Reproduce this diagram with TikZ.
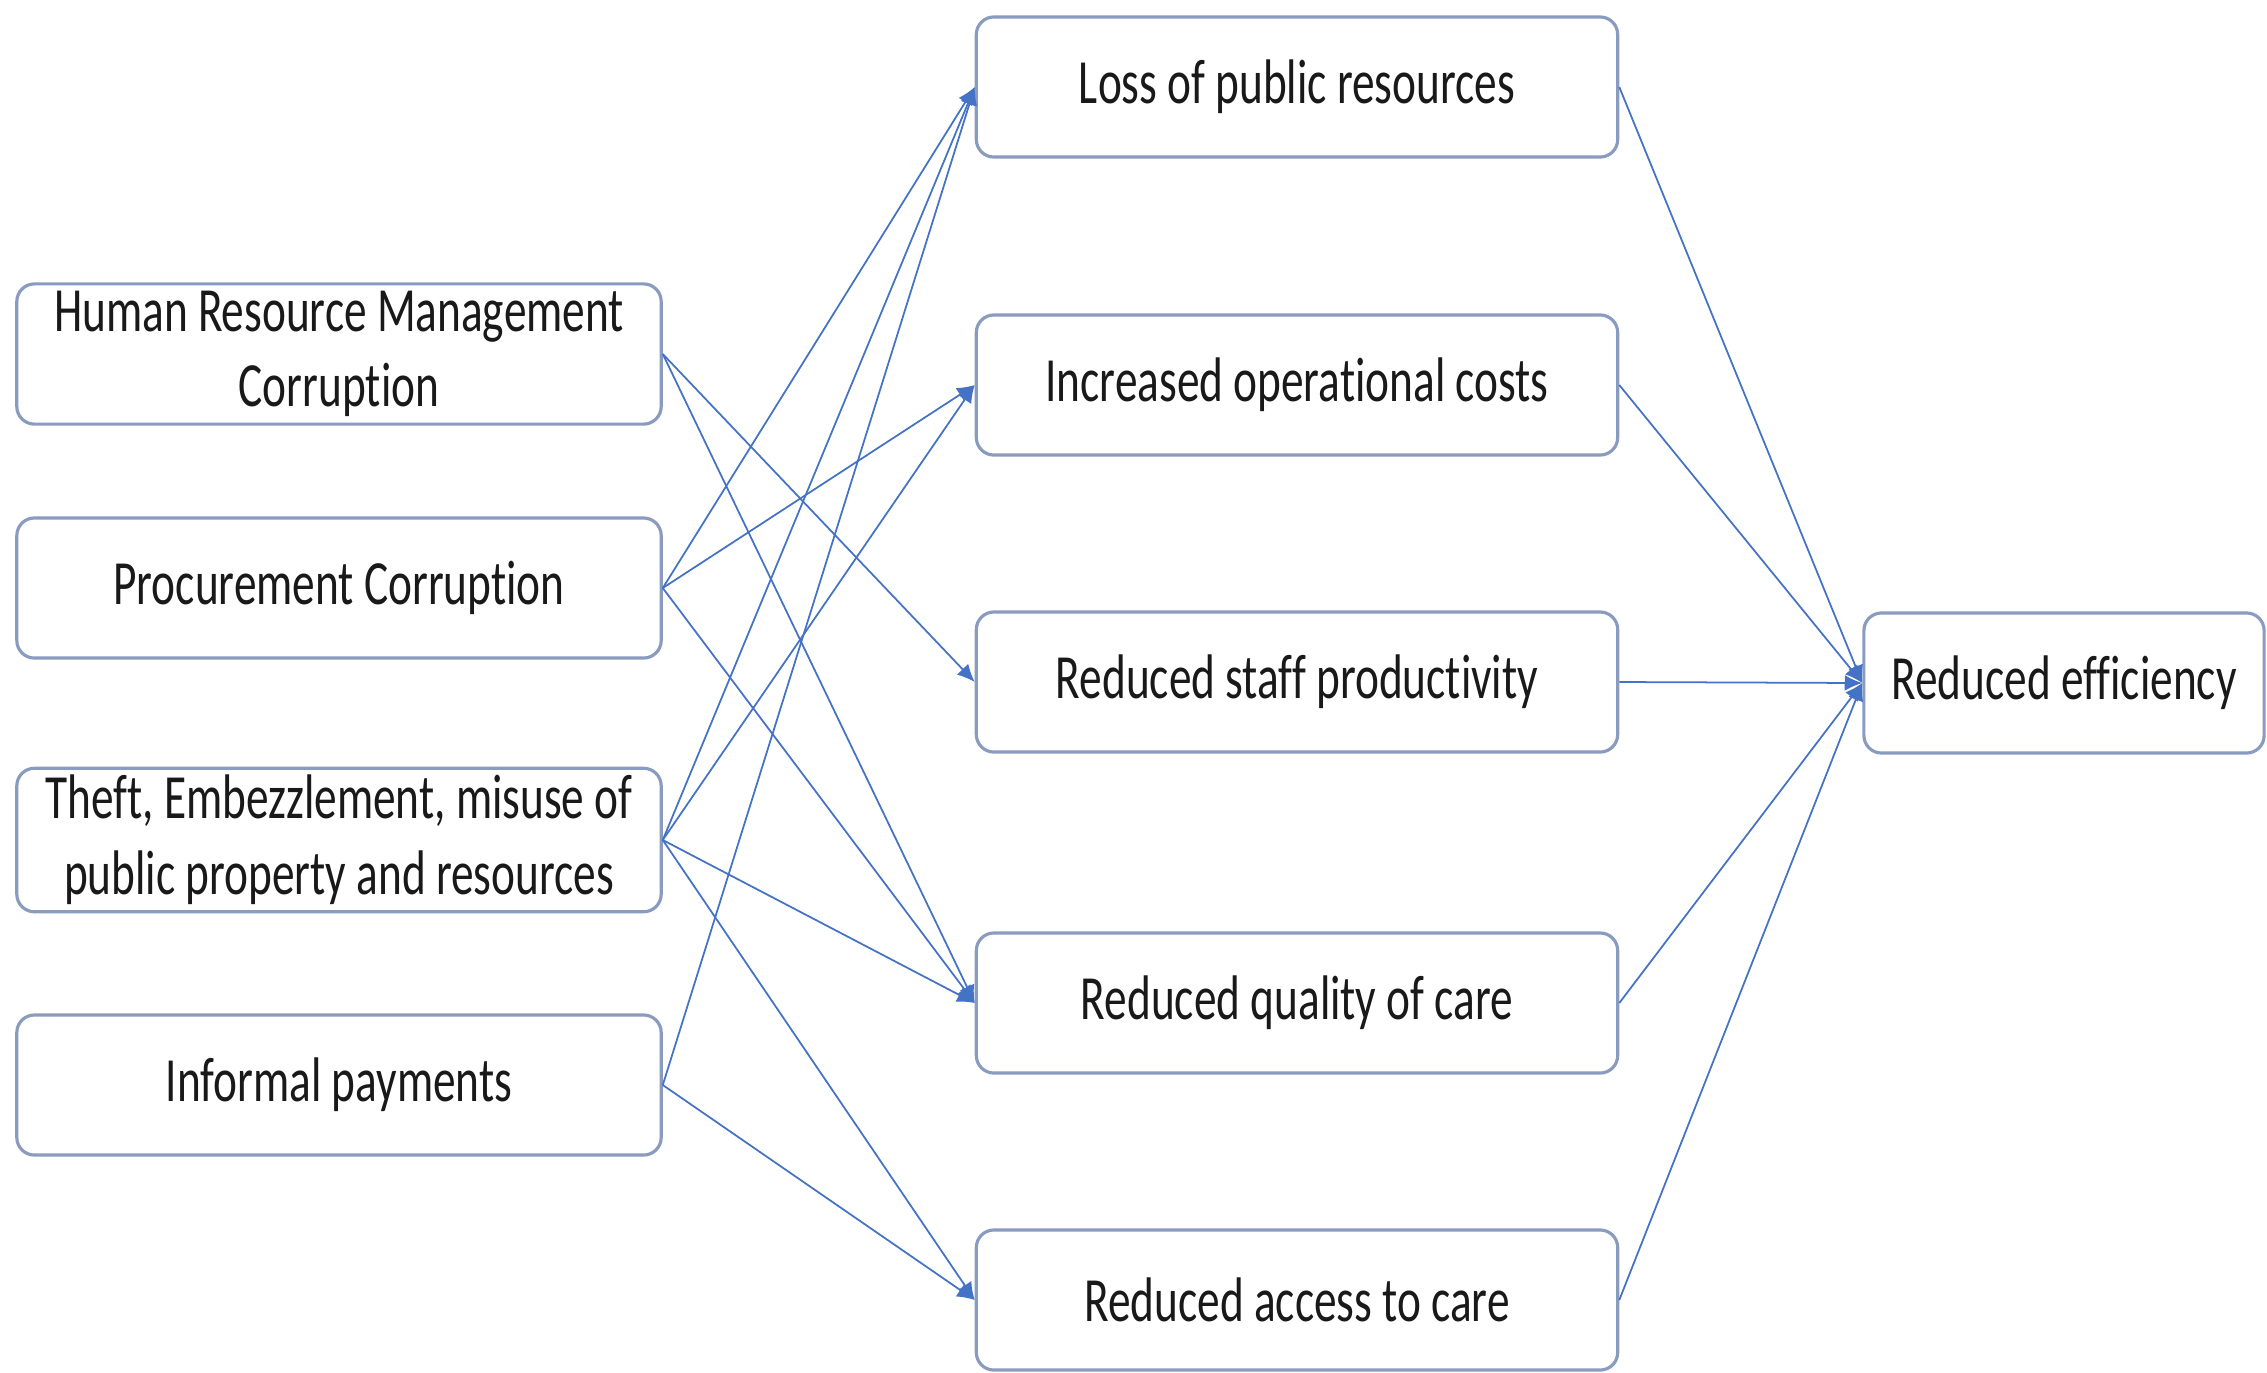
\documentclass[tikz,border=0pt]{standalone}
\usepackage{fontspec}
\setmainfont{Carlito}[FakeStretch=0.72, Ligatures=NoCommon]
\usetikzlibrary{arrows.meta}

\definecolor{linkblue}{HTML}{4472C4}
\definecolor{boxedge}{HTML}{8A9BC0}

\begin{document}
\begin{tikzpicture}[x=0.01cm, y=-0.01cm]

\tikzstyle{box} = [draw=boxedge, line width=0.9pt, rounded corners=5pt, fill=white,
  minimum height=1.4cm, align=center, inner sep=2pt, text=black!90,
  font=\fontsize{17.9}{21.5}\selectfont]
\tikzstyle{cause} = [box, minimum width=6.44cm]
\tikzstyle{effect} = [box, minimum width=6.41cm]
\tikzstyle{link} = [draw=linkblue, line width=0.5pt, -{Latex[length=5pt,width=4.5pt]}]

\useasboundingbox (0,0) rectangle (2267,1372);

% causes
\node[at={(339,354)}, cause] (hrm) {Human Resource Management\\Corruption};
\node[at={(339,588)}, cause] (proc) {Procurement Corruption};
\node[at={(339,840)}, cause] (theft) {Theft, Embezzlement, misuse of\\public property and resources};
\node[at={(339,1085)}, cause] (informal) {Informal payments};

% effects
\node[at={(1297,87)}, effect] (loss) {Loss of public resources};
\node[at={(1297,385)}, effect] (costs) {Increased operational costs};
\node[at={(1297,682)}, effect] (staff) {Reduced staff productivity};
\node[at={(1297,1003)}, effect] (quality) {Reduced quality of care};
\node[at={(1297,1300)}, effect] (access) {Reduced access to care};

\node[at={(2064,683)}, box, minimum width=4.0cm] (eff) {Reduced efficiency};

\draw[link] (hrm.east) -- (staff.west);
\draw[link] (hrm.east) -- (quality.west);

\draw[link] (proc.east) -- (loss.west);
\draw[link] (proc.east) -- (costs.west);
\draw[link] (proc.east) -- (quality.west);

\draw[link] (theft.east) -- (loss.west);
\draw[link] (theft.east) -- (costs.west);
\draw[link] (theft.east) -- (quality.west);
\draw[link] (theft.east) -- (access.west);

\draw[link] (informal.east) -- (loss.west);
\draw[link] (informal.east) -- (access.west);

\foreach \n in {loss,costs,staff,quality,access}
  \draw[link] (\n.east) -- (eff.west);

\end{tikzpicture}
\end{document}
